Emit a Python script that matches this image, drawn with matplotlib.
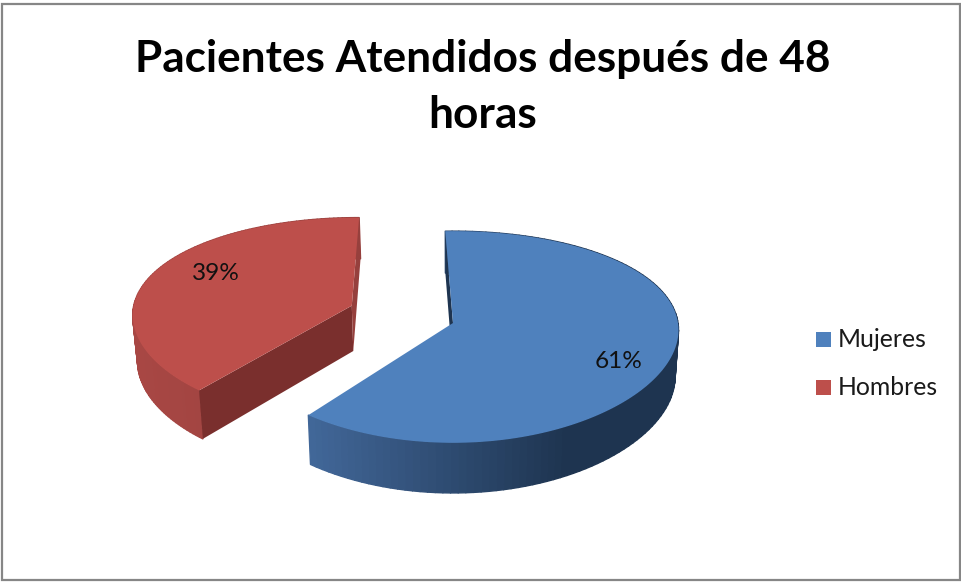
"""
Exploded pseudo-3D pie: patients seen after 48 hours, by sex.
"""
import numpy as np
import matplotlib
matplotlib.use("Agg")
import matplotlib.pyplot as plt
from matplotlib.collections import PolyCollection
from matplotlib.patches import Polygon, Rectangle
from matplotlib.colors import to_rgb

TITLE = "Pacientes Atendidos después de 48\nhoras"
CATEGORIES = ["Mujeres", "Hombres"]
VALUES = [61, 39]
COLORS = ["#4f81bd", "#bd4f4b"]
SIDE_LEFT = ["#42689a", "#a84744"]
SIDE_RIGHT = ["#1e3450", "#96403d"]
INNER = ["#1e3450", "#7a2f2d"]
EXPLODE = [(0.0, 0.0), (-0.455, -0.17)]
ROTATE = [0.0, 2.4]
RADIUS = [1.0, 0.98]

plt.rcParams["font.family"] = ["Lato", "DejaVu Sans"]

# pie geometry in canvas pixels
CX, CY = 453, 323
RX, RY = 225, 104
PX, PY = 0.067, 0.132
DEPTH = 46
START = -2.1


def project(u, v):
    x = CX + RX * u / (1 - PX * v)
    y = CY + RY * v / (1 - PY * v)
    return x, y


def lower(x, y, v):
    # bottom face sits below the top one and shrinks a little with distance
    return CX + (x - CX) * 0.985, y + DEPTH * (1 + 0.09 * v)


def mix(c0, c1, t):
    c0, c1 = np.array(to_rgb(c0)), np.array(to_rgb(c1))
    return tuple(c0 + (c1 - c0) * t)


def draw_slice(ax, a0, a1, i):
    ou, ov = EXPLODE[i]
    theta = np.radians(np.linspace(a0, a1, 120))
    u = RADIUS[i] * np.sin(theta) + ou
    v = -np.cos(theta) + ov
    x, y = project(u, v)
    xb, yb = lower(x, y, v)
    ax_, ay_ = project(ou, ov)
    axb, ayb = lower(ax_, ay_, ov)

    # outer wall, shaded left to right
    quads, shades = [], []
    span_l, span_r = (308, 570) if i == 0 else (137, 360)
    for k in range(len(x) - 1):
        quads.append([(x[k], y[k]), (x[k + 1], y[k + 1]),
                      (xb[k + 1], yb[k + 1]), (xb[k], yb[k])])
        t = np.clip((x[k] - span_l) / (span_r - span_l), 0, 1)
        shades.append(mix(SIDE_LEFT[i], SIDE_RIGHT[i], t))
    ax.add_collection(PolyCollection(quads, facecolors=shades, edgecolors=shades,
                                     linewidths=1.0, zorder=2))

    # cut wall at the start of the slice faces the viewer on both slices
    ax.add_patch(Polygon([(ax_, ay_), (x[0], y[0]), (xb[0], yb[0]), (axb, ayb)],
                         facecolor=INNER[i], edgecolor="none", zorder=3))
    # the far cut is only visible on the pulled-out slice, as a thin sliver
    if i == 1:
        ax.add_patch(Polygon([(ax_, ay_), (x[-1], y[-1]), (xb[-1], yb[-1]), (axb, ayb)],
                             facecolor=SIDE_RIGHT[i], edgecolor="none", zorder=3))

    top = np.column_stack([np.r_[ax_, x], np.r_[ay_, y]])
    ax.add_patch(Polygon(top, facecolor=COLORS[i], edgecolor="none", zorder=4))


fig = plt.figure(figsize=(9.62, 5.82), dpi=100)
ax = fig.add_axes([0, 0, 1, 1])
ax.set_xlim(0, 962)
ax.set_ylim(582, 0)
ax.axis("off")

ax.add_patch(Rectangle((2.5, 4), 957.5, 576, facecolor="white",
                       edgecolor="#868686", linewidth=1.6, zorder=0))

angle = START
edges = []
for i, val in enumerate(VALUES):
    sweep = val / sum(VALUES) * 360
    edges.append((angle + ROTATE[i], angle + sweep + ROTATE[i]))
    angle += sweep

# far slice first so the nearer one overlaps it
for i in [1, 0]:
    draw_slice(ax, edges[i][0], edges[i][1], i)

ax.text(483, 87, TITLE, ha="center", va="center", fontsize=31.8, fontweight="bold",
        color="black", linespacing=1.48, zorder=6)

ax.text(619, 361, f"{VALUES[0]}%", ha="center", va="center", fontsize=17.6,
        color="#111111", zorder=6)
ax.text(216, 273, f"{VALUES[1]}%", ha="center", va="center", fontsize=17.6,
        color="#111111", zorder=6)

for name, col, yc in zip(CATEGORIES, COLORS, [339.5, 387.5]):
    ax.add_patch(Rectangle((816, yc - 7.5), 15, 15, facecolor=col, edgecolor="none", zorder=5))
    ax.text(838, yc, name, ha="left", va="center", fontsize=17.8, color="#1a1a1a", zorder=6)

fig.savefig("out.png", dpi=100)
plt.close(fig)
